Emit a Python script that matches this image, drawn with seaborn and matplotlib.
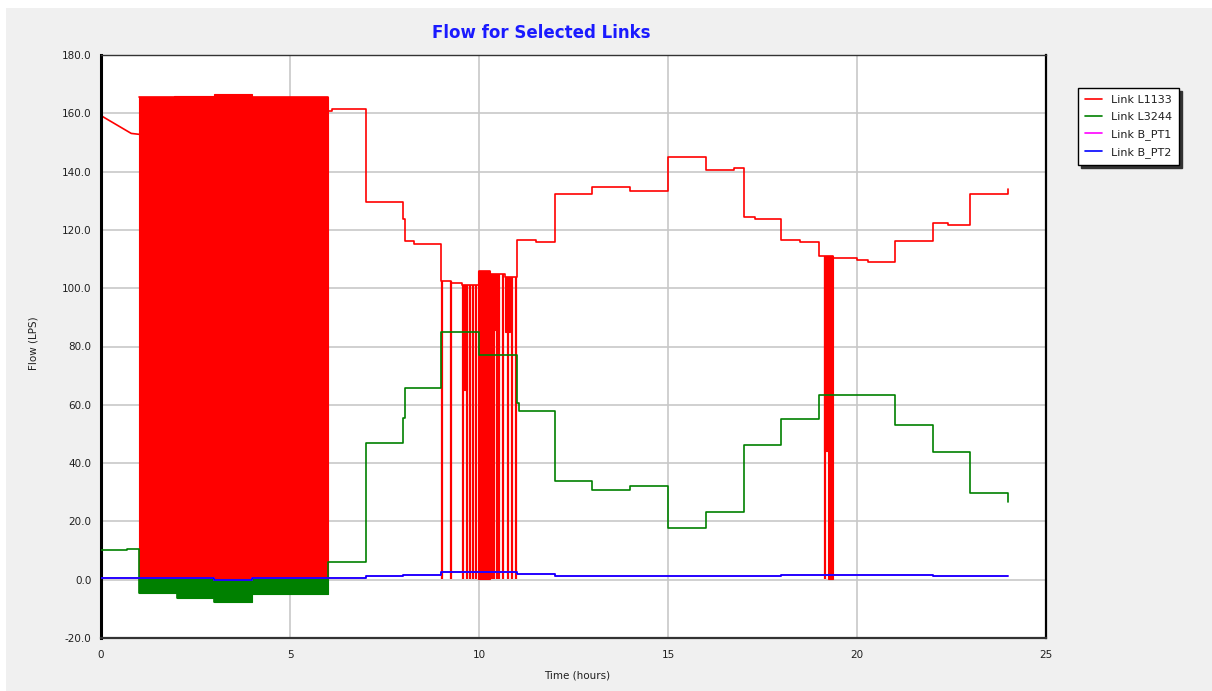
import matplotlib; matplotlib.use('Agg')
import matplotlib.pyplot as plt
import matplotlib.patches as mpatches
from matplotlib.lines import Line2D
import seaborn as sns

sns.set_theme(style='whitegrid')
plt.rcParams['font.family'] = ['DejaVu Sans']

# ── data ──────────────────────────────────────────────────────────────
# L1133: first hour (sloped), then step breakpoints from 6 h on
red_start_t = [0.0, 0.8, 1.0]
red_start_v = [159.2, 153.1, 152.8]
red_step_t = [1.0, 6.0, 6.1, 7.0, 8.0, 8.05, 8.27, 9.0, 9.25, 9.55, 10.0, 10.3, 10.7,
              11.0, 11.5, 12.0, 13.0, 14.0, 15.0, 16.0, 16.75, 17.0, 17.3, 18.0, 18.5,
              19.0, 19.36, 20.0, 20.28, 21.0, 22.0, 22.4, 23.0, 24.0]
red_step_v = [165.7, 160.8, 161.5, 129.5, 123.6, 116.1, 115.3, 102.5, 101.8, 101.1, 105.8, 104.8, 104.0,
              116.7, 115.9, 132.2, 134.7, 133.3, 145.1, 140.7, 141.1, 124.5, 123.8, 116.7, 116.0,
              110.9, 110.3, 109.7, 109.0, 116.1, 122.4, 121.6, 132.2, 133.9]
# pump cycling: solid blocks (start, end, low, high)
red_blk_t0 = [1.0, 1.92, 3.0, 4.0, 9.58, 9.97, 10.30, 10.70, 19.13, 19.22]
red_blk_t1 = [1.92, 3.0, 4.0, 6.0, 9.69, 10.30, 10.44, 10.83, 19.22, 19.36]
red_blk_lo = [0.3, 0.3, 0.3, 0.3, 65.0, 0.3, 85.5, 85.0, 44.0, 0.3]
red_blk_hi = [165.7, 166.1, 166.7, 165.7, 101.1, 105.8, 104.8, 104.0, 110.9, 110.9]
# single short drops to zero
red_dip_t = [9.02, 9.25, 9.58, 9.69, 9.77, 9.85, 9.91, 10.35, 10.41, 10.48, 10.52,
             10.64, 10.76, 10.88, 10.97, 19.16]
red_dip_top = [102.5, 102.5, 101.1, 101.1, 101.1, 101.1, 101.1, 104.8, 104.8, 104.8, 104.8,
               104.8, 104.0, 104.0, 104.0, 110.9]

# L3244
green_t = [0.0, 0.68, 1.0, 2.0, 3.0, 4.0, 6.0, 7.0, 8.0, 8.05, 9.0, 10.0, 11.0, 11.05,
           12.0, 13.0, 14.0, 15.0, 16.0, 17.0, 18.0, 19.0, 21.0, 22.0, 23.0, 24.0]
green_v = [10.1, 10.7, -4.4, -6.3, -7.7, -4.9, 6.1, 46.9, 55.5, 65.7, 85.1, 77.2, 60.7, 57.8,
           33.9, 30.8, 32.0, 17.8, 23.2, 46.2, 55.2, 63.2, 52.9, 43.7, 29.6, 26.7]
green_blk_t0 = [1.0, 2.0, 3.0, 4.0]
green_blk_t1 = [2.0, 3.0, 4.0, 6.0]
green_blk_lo = [-4.4, -6.3, -7.7, -4.9]
green_blk_hi = [0.3, 0.3, 0.3, 0.3]

# B_PT1 / B_PT2 (B_PT1 lies under B_PT2)
pump_t = [0.0, 3.0, 4.0, 7.0, 8.0, 9.0, 11.0, 12.0, 18.0, 22.0, 24.0]
pt1_v = [0.6, 0.0, 0.6, 1.1, 1.7, 2.5, 2.1, 1.1, 1.7, 1.1, 1.1]
pt2_v = [0.6, 0.0, 0.6, 1.1, 1.7, 2.5, 2.1, 1.1, 1.7, 1.1, 1.1]

link_names = ['Link L1133', 'Link L3244', 'Link B_PT1', 'Link B_PT2']
link_colors = ['#ff0000', '#008000', '#ff00ff', '#0000ff']

# ── figure ─────────────────────────────────────────────────────────────
W, H = 1212, 691
fig = plt.figure(figsize=(W / 100, H / 100), dpi=100, facecolor='white')
fig.patches.append(mpatches.Rectangle((6 / W, 0), 1 - 6 / W, 1 - 8 / H, transform=fig.transFigure,
                                      facecolor='#f0f0f0', edgecolor='none', zorder=-10))
ax = fig.add_axes([101 / W, 1 - 638 / H, (1046 - 101) / W, (638 - 55) / H])
ax.set_facecolor('white')

red, green, mag, blue = link_colors
lw = 1.2

# L1133
sns.lineplot(x=red_start_t, y=red_start_v, estimator=None, sort=False, color=red, lw=lw, ax=ax, zorder=2)
sns.lineplot(x=red_step_t, y=red_step_v, estimator=None, sort=False, color=red, lw=lw,
             drawstyle='steps-post', ax=ax, zorder=2)
ax.bar(red_blk_t0, [h - l for h, l in zip(red_blk_hi, red_blk_lo)],
       width=[b - a for a, b in zip(red_blk_t0, red_blk_t1)], bottom=red_blk_lo,
       align='edge', color=red, edgecolor=red, lw=0.8, zorder=2)
ax.vlines(red_dip_t, 0.3, red_dip_top, color=red, lw=1.6, zorder=2)

# L3244
sns.lineplot(x=green_t, y=green_v, estimator=None, sort=False, color=green, lw=lw,
             drawstyle='steps-post', ax=ax, zorder=3)
ax.bar(green_blk_t0, [h - l for h, l in zip(green_blk_hi, green_blk_lo)],
       width=[b - a for a, b in zip(green_blk_t0, green_blk_t1)], bottom=green_blk_lo,
       align='edge', color=green, edgecolor=green, lw=0.8, zorder=3)

# pumps
sns.lineplot(x=pump_t, y=pt1_v, estimator=None, sort=False, color=mag, lw=lw,
             drawstyle='steps-post', ax=ax, zorder=4)
sns.lineplot(x=pump_t, y=pt2_v, estimator=None, sort=False, color=blue, lw=lw,
             drawstyle='steps-post', ax=ax, zorder=5)

ax.set_xlim(0, 25)
ax.set_ylim(-20, 180)
ax.set_xticks(range(0, 26, 5))
ax.set_yticks(range(-20, 181, 20))
ax.set_yticklabels([f'{v:.1f}' for v in range(-20, 181, 20)])
ax.set_xlabel('')
ax.set_ylabel('')
ax.grid(True, color='#c8c8c8', lw=1.2)
ax.set_axisbelow(True)
ax.tick_params(direction='out', length=4, width=1, color='#404040', labelsize=7.5,
               labelcolor='#202020', pad=3)
ax.tick_params(axis='x', pad=5)
for side, w, c in [('left', 2.2, 'black'), ('bottom', 1.6, '#333333'),
                   ('top', 1.0, '#333333'), ('right', 1.6, 'black')]:
    ax.spines[side].set_visible(True)
    ax.spines[side].set_linewidth(w)
    ax.spines[side].set_color(c)

fig.text(541 / W, 1 - 33 / H, 'Flow for Selected Links', color='#1a1aff', fontsize=12,
         fontweight='bold', ha='center', va='center')
fig.text(34 / W, 1 - 343 / H, 'Flow (LPS)', rotation=90, fontsize=7.5, color='#202020',
         ha='center', va='center')
fig.text(577 / W, 1 - 675 / H, 'Time (hours)', fontsize=7.5, color='#202020',
         ha='center', va='center')

handles = [Line2D([0], [0], color=c, lw=1.2) for c in link_colors]
fig.legend(handles, link_names, loc='upper left', bbox_to_anchor=(1078 / W, 1 - 88 / H),
           borderaxespad=0, frameon=True, fancybox=False, edgecolor='black', framealpha=1,
           facecolor='white', shadow={'color': '#333333', 'alpha': 1}, fontsize=8,
           handlelength=1.6, labelspacing=0.65, borderpad=0.6, handletextpad=0.8,
           labelcolor='#202020')

fig.savefig('out.png', dpi=100, facecolor=fig.get_facecolor())
